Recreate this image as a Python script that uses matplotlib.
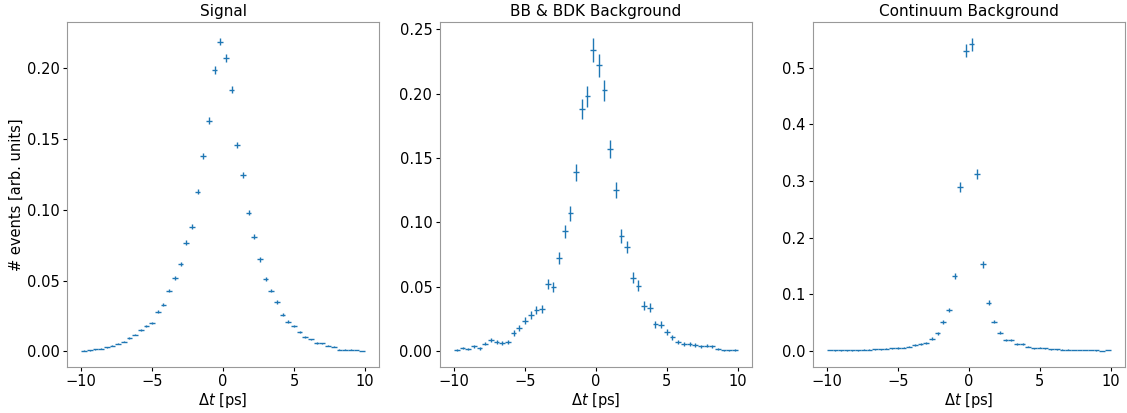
import numpy as np
import matplotlib
matplotlib.use("Agg")
import matplotlib.pyplot as plt

# 50 bins of 0.4 ps between -10 and 10
edges = np.linspace(-10, 10, 51)
centers = 0.5 * (edges[1:] + edges[:-1])
half_width = 0.5 * (edges[1] - edges[0])

titles = ["Signal", "BB & BDK Background", "Continuum Background"]

signal = [0.0007, 0.0010, 0.0015, 0.0020, 0.0030, 0.0040, 0.0055, 0.0070, 0.0097, 0.0120,
          0.0150, 0.0180, 0.0200, 0.0280, 0.0330, 0.0430, 0.0520, 0.0620, 0.0770, 0.0880,
          0.1130, 0.1380, 0.1630, 0.1990, 0.2190, 0.2075, 0.1850, 0.1460, 0.1250, 0.0980,
          0.0810, 0.0650, 0.0510, 0.0430, 0.0350, 0.0260, 0.0210, 0.0180, 0.0137, 0.0100,
          0.0085, 0.0060, 0.0057, 0.0040, 0.0033, 0.0014, 0.0014, 0.0012, 0.0010, 0.0005]
signal_err = [0.0002, 0.0003, 0.0003, 0.0003, 0.0004, 0.0004, 0.0005, 0.0006, 0.0006, 0.0007,
              0.0008, 0.0009, 0.0009, 0.0011, 0.0012, 0.0013, 0.0014, 0.0015, 0.0017, 0.0018,
              0.0020, 0.0022, 0.0024, 0.0026, 0.0028, 0.0027, 0.0026, 0.0023, 0.0021, 0.0019,
              0.0017, 0.0015, 0.0014, 0.0013, 0.0012, 0.0010, 0.0009, 0.0009, 0.0008, 0.0007,
              0.0006, 0.0005, 0.0005, 0.0004, 0.0004, 0.0003, 0.0003, 0.0003, 0.0002, 0.0002]

bbk = [0.0013, 0.0026, 0.0015, 0.0040, 0.0023, 0.0060, 0.0090, 0.0075, 0.0064, 0.0070,
       0.0140, 0.0180, 0.0237, 0.0280, 0.0320, 0.0330, 0.0520, 0.0500, 0.0725, 0.0930,
       0.1070, 0.1390, 0.1880, 0.1980, 0.2340, 0.2220, 0.2026, 0.1570, 0.1250, 0.0895,
       0.0810, 0.0570, 0.0510, 0.0355, 0.0340, 0.0210, 0.0206, 0.0150, 0.0110, 0.0072,
       0.0057, 0.0057, 0.0050, 0.0039, 0.0044, 0.0040, 0.0018, 0.0008, 0.0008, 0.0010]
bbk_err = [0.0008, 0.0010, 0.0008, 0.0012, 0.0009, 0.0014, 0.0017, 0.0016, 0.0015, 0.0016,
           0.0022, 0.0025, 0.0028, 0.0030, 0.0032, 0.0033, 0.0040, 0.0040, 0.0047, 0.0054,
           0.0058, 0.0065, 0.0078, 0.0080, 0.0095, 0.0090, 0.0082, 0.0070, 0.0062, 0.0052,
           0.0050, 0.0042, 0.0040, 0.0034, 0.0033, 0.0026, 0.0026, 0.0022, 0.0019, 0.0016,
           0.0014, 0.0014, 0.0013, 0.0012, 0.0012, 0.0012, 0.0008, 0.0006, 0.0006, 0.0006]

continuum = [0.0018, 0.0012, 0.0012, 0.0012, 0.0012, 0.0012, 0.0023, 0.0023, 0.0030, 0.0035,
             0.0040, 0.0047, 0.0053, 0.0060, 0.0076, 0.0105, 0.0130, 0.0150, 0.0220, 0.0310,
             0.0510, 0.0720, 0.1320, 0.2890, 0.5300, 0.5410, 0.3130, 0.1530, 0.0850, 0.0520,
             0.0320, 0.0200, 0.0200, 0.0130, 0.0130, 0.0080, 0.0047, 0.0058, 0.0047, 0.0030,
             0.0030, 0.0023, 0.0023, 0.0018, 0.0018, 0.0018, 0.0018, 0.0012, 0.0003, 0.0018]
continuum_err = [0.0006, 0.0005, 0.0005, 0.0005, 0.0005, 0.0005, 0.0007, 0.0007, 0.0008, 0.0009,
                 0.0009, 0.0010, 0.0011, 0.0011, 0.0013, 0.0015, 0.0016, 0.0018, 0.0021, 0.0025,
                 0.0032, 0.0038, 0.0055, 0.0085, 0.0115, 0.0120, 0.0090, 0.0060, 0.0043, 0.0033,
                 0.0026, 0.0021, 0.0021, 0.0016, 0.0016, 0.0013, 0.0010, 0.0011, 0.0010, 0.0008,
                 0.0008, 0.0007, 0.0007, 0.0006, 0.0006, 0.0006, 0.0006, 0.0005, 0.0003, 0.0006]

series = [(signal, signal_err), (bbk, bbk_err), (continuum, continuum_err)]

plt.rcParams['font.size'] = 10.5
plt.rcParams['xtick.major.size'] = 3
plt.rcParams['ytick.major.size'] = 3
plt.rcParams['xtick.major.pad'] = 2.5
plt.rcParams['ytick.major.pad'] = 2.5
fig, axes = plt.subplots(1, 3, figsize=(11.27, 4.13), dpi=100)
fig.subplots_adjust(left=0.0595, right=0.998, bottom=0.112, top=0.947, wspace=0.195)

for ax, title, (vals, errs) in zip(axes, titles, series):
    ax.errorbar(centers, vals, xerr=half_width, yerr=errs, fmt='none',
                ecolor='#1f77b4', elinewidth=1.0)
    ax.set_title(title, fontsize=11, pad=4)
    ax.set_xlabel(r"$\Delta t$ [ps]", labelpad=1)
    ax.set_xticks([-10, -5, 0, 5, 10])
    for side in ax.spines.values():
        side.set_color('#999999')

axes[0].set_ylabel("# events [arb. units]", labelpad=2)

plt.savefig("out.png", dpi=100)
